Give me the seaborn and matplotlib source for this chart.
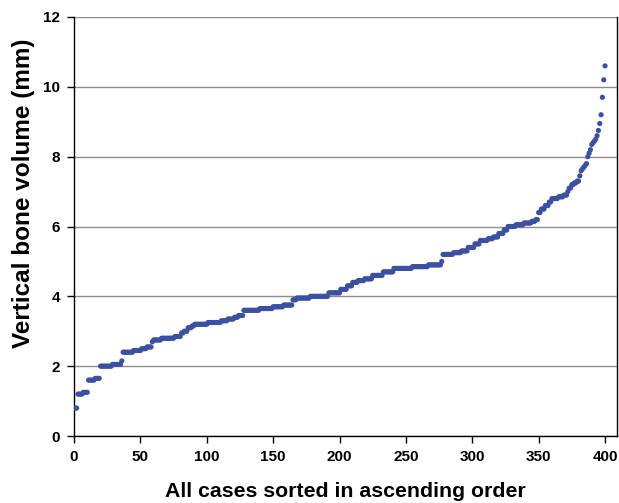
import numpy as np
import pandas as pd
import seaborn as sns
import matplotlib
matplotlib.use("Agg")
import matplotlib.pyplot as plt

# Plateau levels (mm) and number of cases at each level
levels = [0.8, 1.2, 1.25, 1.6, 1.65, 2.0, 2.05, 2.15, 2.4, 2.45, 2.5, 2.55,
          2.7, 2.75, 2.8, 2.85, 2.95, 3.0, 3.1, 3.15, 3.2, 3.25, 3.3, 3.35,
          3.4, 3.45, 3.6, 3.65, 3.7, 3.75, 3.9, 3.95, 4.0, 4.1, 4.2, 4.3,
          4.4, 4.45, 4.5, 4.6, 4.7, 4.8, 4.85, 4.9, 5.0, 5.2, 5.25, 5.3,
          5.4, 5.5, 5.6, 5.65, 5.7, 5.8, 5.9, 6.0, 6.05, 6.1, 6.15, 6.2,
          6.4, 6.5, 6.6, 6.7, 6.8, 6.85, 6.9, 7.0, 7.1, 7.2, 7.25, 7.3,
          7.45, 7.6, 7.65, 7.7, 7.75, 7.8, 8.0, 8.1, 8.2, 8.35, 8.4, 8.45,
          8.5, 8.6, 8.75, 8.95, 9.2, 9.7, 10.2, 10.6]
counts = [2, 4, 4, 5, 4, 9, 7, 1, 8, 6, 4, 4,
          1, 6, 10, 5, 2, 3, 3, 2, 10, 10, 5, 5,
          3, 4, 12, 10, 8, 7, 3, 10, 14, 9, 5, 4,
          4, 5, 6, 8, 8, 14, 12, 10, 1, 8, 6, 5,
          5, 4, 6, 4, 4, 4, 3, 6, 6, 6, 3, 2,
          2, 3, 3, 2, 5, 4, 3, 1, 2, 2, 2, 2,
          1, 1, 1, 1, 1, 1, 1, 1, 1, 1, 1, 1,
          1, 1, 1, 1, 1, 1, 1, 1]

x_ticks = [0, 50, 100, 150, 200, 250, 300, 350, 400]
y_ticks = [0, 2, 4, 6, 8, 10, 12]

values = np.repeat(levels, counts)
df = pd.DataFrame({"case": np.arange(1, len(values) + 1), "volume": values})

sns.set_style("white")
plt.rcParams["font.family"] = ["Liberation Sans", "DejaVu Sans"]
plt.rcParams["text.color"] = "black"
plt.rcParams["axes.labelcolor"] = "black"
plt.rcParams["xtick.color"] = "black"
plt.rcParams["ytick.color"] = "black"

fig = plt.figure(figsize=(6.19, 5.03), dpi=100)
ax = fig.add_axes([74 / 619, 67 / 503, (617 - 74) / 619, (436 - 17) / 503])

ax.yaxis.grid(True, color="#8c8c8c", linewidth=1.0, zorder=0)
ax.set_axisbelow(True)

sns.scatterplot(data=df, x="case", y="volume", ax=ax, color="#3b4fa3",
                s=14, edgecolor="none", linewidth=0, zorder=3)

ax.set_xlim(0, 409)
ax.set_ylim(0, 12)
ax.set_xticks(x_ticks)
ax.set_yticks(y_ticks)
ax.set_xticklabels([str(t) for t in x_ticks], fontweight="bold", fontsize=11)
ax.set_yticklabels([str(t) for t in y_ticks], fontweight="bold", fontsize=11)
ax.tick_params(axis="both", direction="out", length=5, width=1, color="black",
               labelcolor="black", pad=5, bottom=True, left=True)

ax.set_xlabel("All cases sorted in ascending order", fontsize=15.3,
              fontweight="bold", labelpad=13, color="black")
ax.set_ylabel("Vertical bone volume (mm)", fontsize=17.5,
              fontweight="bold", color="black")
ax.yaxis.set_label_coords(-0.072, 0.579)

for side in ["left", "bottom", "right"]:
    ax.spines[side].set_visible(True)
    ax.spines[side].set_color("black")
    ax.spines[side].set_linewidth(1.0)
ax.spines["top"].set_visible(False)

fig.savefig("out.png", dpi=100)
